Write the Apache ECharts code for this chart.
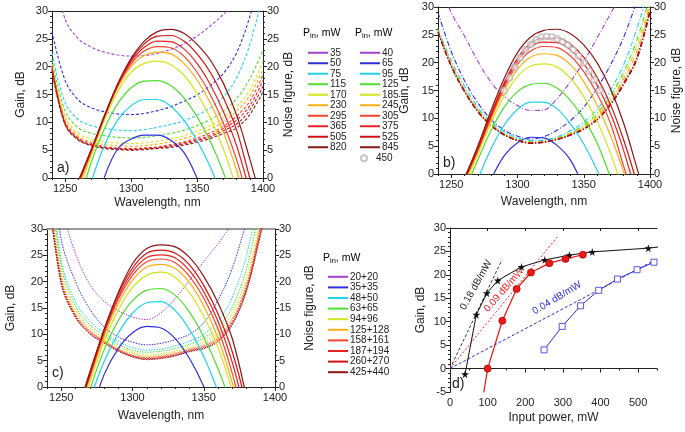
<!DOCTYPE html>
<html><head><meta charset="utf-8">
<script src="https://cdn.jsdelivr.net/npm/echarts@6/dist/echarts.min.js"></script>
<style>html,body{margin:0;padding:0;background:#fff}#c{width:685px;height:432px}</style>
</head><body><div id="c"></div>
<script>
// ---------- data ----------
const WL = [1240,1250,1260,1270,1280,1290,1300,1310,1320,1330,1340,1350,1360,1370,1380,1390,1400];
const _ = null;
// panel a (legend column 1), gain
const aNames = ['35','50','75','115','170','230','295','365','505','820'];
const aGain = {
  '50':  [_,_,_,-8,0.3,5.3,7.0,7.7,7.7,6.8,4.6,0,-6,_,_,_,_],
  '75':  [_,_,_,-0.5,6.0,10.5,13.0,14.1,14.1,12.9,10.4,6.7,2.0,-4,_,_,_],
  '115': [_,_,-5,3.0,9.0,13.4,16.2,17.4,17.5,16.6,14.4,11.0,6.6,1.0,-6,_,_],
  '170': [_,_,-2.5,4.2,10.5,15.6,19.0,20.6,21.0,20.4,18.5,15.2,10.8,5.2,-2,_,_],
  '230': [_,_,-1.5,4.6,11.0,16.3,20.0,22.0,22.6,22.3,20.6,17.6,13.5,8.2,1.3,-7,_],
  '295': [_,_,-1,4.9,11.1,16.6,20.5,22.8,23.6,23.4,21.9,19.0,15.0,9.8,3.3,-5,_],
  '365': [_,_,-0.8,5.0,11.2,16.8,20.9,23.5,24.6,24.5,23.2,20.6,16.8,11.9,5.8,-2.5,_],
  '505': [_,_,-0.6,5.1,11.3,16.9,21.2,24.1,25.5,25.6,24.6,22.3,19.0,14.4,8.6,0.0,-8],
  '820': [_,_,-0.5,5.3,11.3,17.0,21.5,24.6,26.3,26.7,26.0,24.0,21.2,17.0,11.3,3.4,-5]
};
const aNF = {
  '35':  [38,28.5,25.0,23.5,22.6,22.1,21.9,22.0,22.4,23.1,24.1,25.5,27.3,29.4,32,_,_],
  '50':  [26.3,17.5,14.0,12.6,11.9,11.5,11.4,11.6,12.1,12.8,13.8,14.9,16.6,18.8,22.5,29,38],
  '75':  [22.4,13.5,10.5,9.4,8.9,8.6,8.5,8.7,9.1,9.6,10.3,11.3,12.6,14.6,18.0,24.0,33],
  '115': [21.2,12.0,9.0,8.0,7.6,7.3,7.2,7.3,7.6,8.0,8.6,9.4,10.5,12.0,14.3,17.8,23],
  '170': [20.5,11.0,8.0,7.0,6.5,6.3,6.2,6.3,6.6,7.0,7.6,8.4,9.4,10.8,12.8,15.8,21],
  '230': [20.2,10.5,7.5,6.5,6.0,5.8,5.7,5.8,6.1,6.5,7.1,7.8,8.8,10.1,12.0,14.8,19.5],
  '295': [20,10.0,7.2,6.2,5.6,5.4,5.3,5.4,5.6,6.0,6.5,7.2,8.1,9.3,11.1,13.8,18.5],
  '365': [19.8,9.8,7.0,6.0,5.5,5.3,5.2,5.3,5.5,5.8,6.3,6.9,7.7,8.9,10.4,13.0,17.5],
  '505': [19.5,9.6,6.9,5.9,5.4,5.2,5.1,5.2,5.4,5.7,6.1,6.7,7.4,8.5,9.7,12.2,16.5],
  '820': [19.2,9.5,6.8,5.8,5.3,5.1,5.0,5.1,5.3,5.5,5.9,6.4,7.1,8.0,9.0,11.4,15.5]
};
// panel b (legend column 2)
const bNames = ['40','65','95','125','185','245','305','375','525','845'];
const bGain = {
  '65':  [_,_,_,_,-1,3.3,5.6,6.6,6.5,5.1,2.5,-2.5,_,_,_,_,_],
  '95':  [_,_,_,-1,4.5,8.8,11.6,12.9,12.9,11.7,9.0,5.4,0.7,-5,_,_,_],
  '125': [_,_,-3,2.5,7.8,12.0,14.8,16.1,16.3,15.4,13.2,9.9,5.6,-0.5,-7,_,_],
  '185': [_,_,-2,3.5,9.2,14.0,17.5,19.4,19.8,19.2,17.2,13.9,9.5,3.8,-3,_,_],
  '245': [_,_,-1.5,4.0,9.8,15.0,18.8,21.0,21.6,21.3,19.6,16.6,12.4,7.0,0.5,-7,_],
  '305': [_,_,-1.2,4.2,10.2,15.6,19.7,22.1,22.9,22.7,21.2,18.4,14.4,9.2,1.5,-6,_],
  '375': [_,_,-1,4.4,10.5,16.0,20.3,22.9,23.7,23.6,22.3,19.8,16.0,11.0,4.3,-4,_],
  '525': [_,_,-0.8,4.6,10.8,16.4,20.8,23.5,24.4,24.4,23.3,21.0,17.4,12.6,6.2,-1.5,_],
  '845': [_,_,-0.7,5.0,11.4,17.2,21.8,24.6,25.8,26.0,25.2,23.2,20.0,15.4,9.2,1.2,-7]
};
const bNF = {
  '40':  [35,29.0,24.8,20.3,16.5,13.9,12.3,11.4,11.5,13.6,16.6,20.2,24.4,28.7,33,_,_],
  '65':  [29,22,16.8,12.8,9.8,7.9,6.8,6.3,6.7,7.9,9.6,12.0,15.4,19.5,24.5,31,38],
  '95':  [26,20.3,15.8,12.0,9.4,7.6,6.5,6.0,6.1,6.7,7.8,9.3,11.6,15.0,19.6,26.0,34],
  '125': [25.8,19.8,15.2,11.6,9.0,7.3,6.3,5.8,5.9,6.5,7.4,8.8,10.9,14.0,18.3,24,32],
  '185': [25.7,19.7,15.1,11.5,8.9,7.2,6.2,5.7,5.9,6.4,7.3,8.6,10.6,13.5,17.5,23,31],
  '245': [25.6,19.6,15.0,11.4,8.9,7.2,6.1,5.7,5.8,6.3,7.2,8.4,10.3,13.1,17.0,22,30.5],
  '305': [25.6,19.5,14.9,11.3,8.8,7.1,6.1,5.6,5.8,6.3,7.1,8.2,9.9,12.6,16.4,21,29.8],
  '375': [25.5,19.4,14.9,11.3,8.8,7.1,6.0,5.6,5.7,6.2,7.0,8.1,9.8,12.5,16.2,20.8,29.5],
  '525': [25.5,19.4,14.8,11.2,8.7,7.0,6.0,5.5,5.7,6.2,7.0,8.1,9.8,12.4,16.1,20.7,29.3],
  '845': [25.4,19.3,14.8,11.2,8.7,7.0,6.0,5.5,5.7,6.2,7.0,8.0,9.7,12.3,16.0,20.5,29.0]
};
const circleWL   = [1290,1294,1298,1302,1306,1310,1314,1318,1322,1326,1330,1334,1338,1342,1346,1350,1354,1358,1362];
const circleGain = [15.0,17.3,19.2,20.9,22.3,23.3,24.1,24.6,24.7,24.6,24.3,23.8,23.2,22.3,21.2,20.0,18.5,16.9,15.0];
// panel c
const cNames = ['20+20','35+35','48+50','63+65','94+96','125+128','158+161','187+194','260+270','425+440'];
const cGain = {
  '35+35':   [_,_,_,-6,2.3,7.3,10.3,11.5,11.2,9.2,5.4,0.1,-7,_,_,_,_],
  '48+50':   [_,_,_,-2.5,4.8,10.2,14.0,16.0,16.2,14.5,10.9,5.8,-0.8,-8,_,_,_],
  '63+65':   [_,_,_,-0.6,7.0,12.6,16.4,18.4,18.7,17.4,14.2,9.5,3.5,-4,_,_,_],
  '94+96':   [_,_,-7,0.8,8.6,14.6,18.9,21.2,21.8,20.8,17.9,13.4,7.5,-0.6,-9,_,_],
  '125+128': [_,_,-6.5,1.6,9.5,15.8,20.3,22.8,23.3,22.5,19.8,15.4,9.3,0.8,-9,_,_],
  '158+161': [_,_,-6,2.0,10.1,16.6,21.2,23.8,24.3,23.6,21.0,16.9,11.0,2.6,-8,_,_],
  '187+194': [_,_,-6,2.2,10.5,17.1,21.9,24.6,25.1,24.5,22.1,18.1,12.5,4.7,-6,_,_],
  '260+270': [_,_,-6,2.5,10.9,17.7,22.6,25.4,26.0,25.4,23.2,19.3,13.9,6.7,-3.5,_,_],
  '425+440': [_,_,-6,2.8,10.8,17.9,23.4,26.3,27.0,26.6,24.6,21.0,16.0,9.2,-2,_,_]
};
const cNF = {
  '20+20':   [_,34,25.3,19.5,16.3,14.5,13.3,12.8,14.1,16.8,20.3,23.8,27.2,31,_,_,_],
  '35+35':   [50,28,20,14.8,11.4,9.5,8.5,8.0,8.3,9.0,10.0,12.2,16.5,22.5,31.5,_,_],
  '48+50':   [48,24,16.2,12.5,10.3,8.6,7.5,7.0,7.2,7.8,8.7,10.0,12.5,17.0,25.0,38,_],
  '63+65':   [46,23,15.3,11.8,9.8,8.1,7.0,6.6,6.8,7.3,8.1,9.3,11.3,15.2,22.5,35,_],
  '94+96':   [44,22,14.6,11.2,9.3,7.7,6.6,6.1,6.3,6.8,7.6,8.6,10.4,14.0,20.8,32,_],
  '125+128': [42,21,14.0,10.8,8.9,7.3,6.3,5.8,6.0,6.5,7.3,8.1,9.7,13.1,19.7,31,_],
  '158+161': [41,20.5,13.7,10.6,8.7,7.1,6.0,5.6,5.8,6.3,7.1,7.8,9.3,12.6,19.2,30.5,43],
  '187+194': [40,20,13.5,10.4,8.6,7.0,5.9,5.4,5.6,6.1,6.9,7.6,9.0,12.3,18.8,30,42],
  '260+270': [39.5,19.8,13.3,10.2,8.4,6.9,5.8,5.3,5.5,6.0,6.8,7.4,8.8,12.0,18.5,29.5,41],
  '425+440': [39,19.5,13.2,10.1,8.3,6.8,5.7,5.2,5.4,5.9,6.7,7.3,8.6,11.8,18.2,29,41]
};
// panel d
const starX = [40,70,98,127,190,252,317,378,527,560];
const starY = [-1.2,11.5,16.1,18.8,21.7,23.2,24.2,24.9,25.7,26.0];
const redX  = [86,100,139,177,215,264,307,353];
const redY  = [-7,0,10.2,17.0,20.5,22.5,23.4,24.3];
const blueX = [250,298,347,395,445,497,542];
const blueY = [4.0,9.0,13.4,16.7,19.1,21.1,22.7];
const fit18X = [0,138], fit18Y = [0,23.2];
const fit09X = [0,286], fit09Y = [0,28.2];
const fit04X = [0,560], fit04Y = [0,23.8];
const xTicksWL = [1250,1300,1350,1400];
const xTicksP = [0,100,200,300,400,500];

// ---------- style ----------
const COLORS = ['#a43fd0','#2e2ee0','#1fd2f0','#4ddf2c','#d2e61e','#ffae12','#f5442e','#e82222','#d41010','#8c1616'];
const FN = "'Liberation Sans Narrow','Arial Narrow','Liberation Sans',Arial,sans-serif";
const FR = "'Liberation Sans',Arial,sans-serif";
const AX = '#222';
const plain = v => String(v);
const grids = [
  {left:52, top:11, width:211, height:167},
  {left:438, top:7, width:212, height:167},
  {left:47, top:229, width:228, height:158},
  {left:450, top:228, width:207, height:164}
];
const xAxis = [], yAxis = [];
function wlX(g, nameGap, topColor, topW){
  xAxis.push({gridIndex:g, type:'value', min:1240, max:1400, position:'bottom',
    axisLine:{lineStyle:{color:AX,width:1}},
    axisTick:{customValues:xTicksWL, length:4, lineStyle:{color:AX}},
    axisLabel:{customValues:xTicksWL, formatter:plain, margin:5, fontSize:11, fontFamily:FN, color:AX},
    splitLine:{show:false}, name:'Wavelength, nm', nameLocation:'middle', nameGap:nameGap,
    nameTextStyle:{fontSize:12, fontFamily:FR, color:AX}});
  xAxis.push({gridIndex:g, type:'value', min:1240, max:1400, interval:10, position:'bottom',
    axisLine:{show:false}, axisTick:{length:2, lineStyle:{color:AX}}, axisLabel:{show:false}, splitLine:{show:false}});
  xAxis.push({gridIndex:g, type:'value', min:1240, max:1400, position:'top',
    axisLine:{lineStyle:{color:topColor,width:topW}}, axisTick:{show:false}, axisLabel:{show:false}, splitLine:{show:false}});
}
function gY(g, pos, name, gap){
  yAxis.push({gridIndex:g, type:'value', min:0, max:30, interval:5, position:pos,
    axisLine:{show:true, lineStyle:{color:AX}}, axisTick:{show:true, length:4, lineStyle:{color:AX}},
    minorTick:{show:true, splitNumber:5, length:2, lineStyle:{color:AX}},
    axisLabel:{margin:4, fontSize:11, fontFamily:FN, color:AX, formatter:plain, showMinLabel:true, showMaxLabel:true},
    splitLine:{show:false},
    name:name, nameLocation:'middle', nameGap:gap, nameRotate:90,
    nameTextStyle:{fontSize:12, fontFamily:FR, color:AX}});
}
wlX(0, 19, AX, 1); gY(0,'left','Gain, dB',25); gY(0,'right','Noise figure, dB',18);
wlX(1, 22, AX, 1); gY(1,'left','Gain, dB',27); gY(1,'right','Noise figure, dB',21);
wlX(2, 23, '#999', 2); gY(2,'left','Gain, dB',30); gY(2,'right','Noise figure, dB',29);
// panel d axes
xAxis.push({gridIndex:3, type:'value', min:0, max:550, position:'bottom',
  axisLine:{lineStyle:{color:AX}}, axisTick:{customValues:xTicksP, length:4, lineStyle:{color:AX}},
  axisLabel:{customValues:xTicksP, formatter:plain, margin:5, fontSize:11, fontFamily:FN, color:AX, showMinLabel:true},
  splitLine:{show:false},
  name:'Input power, mW', nameLocation:'middle', nameGap:20, nameTextStyle:{fontSize:12, fontFamily:FR, color:AX}});
xAxis.push({gridIndex:3, type:'value', min:0, max:550, interval:50, position:'bottom',
  axisLine:{show:false}, axisTick:{length:2, lineStyle:{color:AX}}, axisLabel:{show:false}, splitLine:{show:false}});
xAxis.push({gridIndex:3, type:'value', min:0, max:550, position:'top',
  axisLine:{lineStyle:{color:AX}}, axisTick:{customValues:xTicksP, inside:true, length:3, lineStyle:{color:AX}},
  axisLabel:{show:false}, splitLine:{show:false}});
yAxis.push({gridIndex:3, type:'value', min:-5, max:30, interval:5, position:'left',
  axisLine:{show:true, lineStyle:{color:AX}}, axisTick:{length:4, lineStyle:{color:AX}},
  minorTick:{show:true, splitNumber:5, length:2, lineStyle:{color:AX}},
  axisLabel:{margin:4, fontSize:11, fontFamily:FN, color:AX, formatter:plain, showMinLabel:true, showMaxLabel:true},
  splitLine:{show:false},
  name:'Gain, dB', nameLocation:'middle', nameGap:23, nameRotate:90, nameTextStyle:{fontSize:12, fontFamily:FR, color:AX}});
yAxis.push({gridIndex:3, type:'value', min:-5, max:30, interval:5, position:'right',
  axisLine:{show:true, lineStyle:{color:AX}}, axisTick:{inside:true, length:3, lineStyle:{color:AX}},
  axisLabel:{show:false}, splitLine:{show:false}});

const series = [];
function ln(name, arr, xs, xi, yi, color, type, width){
  series.push({type:'line', name:name, xAxisIndex:xi, yAxisIndex:yi,
    data: xs.map((x,i)=>[x, arr[i]]), smooth:0.35, symbol:'none', showSymbol:false,
    lineStyle:{color:color, width:width, type:type}, itemStyle:{color:color}, clip:true, silent:true});
}
function panel(names, gain, nf, xi, yi, dash, nfW){
  names.forEach((n,k)=>{ if(nf[n]) ln(n, nf[n], WL, xi, yi+1, COLORS[k], dash, nfW); });
  names.forEach((n,k)=>{ if(gain[n]) ln(n, gain[n], WL, xi, yi, COLORS[k], 'solid', 1.2); });
}
panel(aNames, aGain, aNF, 0, 0, [3,2], 1.1);
panel(bNames, bGain, bNF, 3, 2, [5,2,1,2], 1.1);
series.push({type:'scatter', name:'450', xAxisIndex:3, yAxisIndex:2,
  data: circleWL.map((x,i)=>[x, circleGain[i]]), symbol:'circle', symbolSize:6,
  itemStyle:{color:'rgba(255,255,255,0.7)', borderColor:'#b5b5b5', borderWidth:1.6}, z:5, silent:true});
panel(cNames, cGain, cNF, 6, 4, [1.5,1.2], 1.0);

// panel d
const STAR = 'path://M50,0 L61,35 L98,35 L68,57 L79,91 L50,70 L21,91 L32,57 L2,35 L39,35 Z';
function fit(xs, ys, color, type){
  series.push({type:'line', xAxisIndex:9, yAxisIndex:6, data: xs.map((x,i)=>[x,ys[i]]), symbol:'none',
    lineStyle:{color:color, width:1, type:type}, silent:true});
}
fit(fit18X, fit18Y, '#333', [3,2]);
fit(fit09X, fit09Y, '#ee2222', [2,2]);
fit(fit04X, fit04Y, '#2a2ae0', [3,2]);
series.push({type:'line', xAxisIndex:9, yAxisIndex:6,
  data: starX.map((x,i)=> i===starX.length-1 ? {value:[x,starY[i]], symbol:'none'} : [x,starY[i]]),
  symbol:STAR, symbolSize:8, showAllSymbol:true, lineStyle:{color:'#111', width:1}, itemStyle:{color:'#111'}, z:4, silent:true});
series.push({type:'line', xAxisIndex:9, yAxisIndex:6,
  data: redX.map((x,i)=> i===0 ? {value:[x,redY[i]], symbol:'none'} : [x,redY[i]]),
  symbol:'circle', symbolSize:7, showAllSymbol:true, lineStyle:{color:'#ee1111', width:1.2},
  itemStyle:{color:'#f01818', borderColor:'#b00000', borderWidth:0.8}, z:4, silent:true});
series.push({type:'line', xAxisIndex:9, yAxisIndex:6, data: blueX.map((x,i)=>[x,blueY[i]]),
  symbol:'rect', symbolSize:6, showAllSymbol:true, lineStyle:{color:'#2a2ad8', width:1},
  itemStyle:{color:'#fff', borderColor:'#5555dd', borderWidth:1}, z:4, silent:true});

const legBase = {orient:'vertical', icon:'rect', itemWidth:20, itemHeight:2, itemGap:0, selectedMode:false,
  textStyle:{fontSize:10, lineHeight:10.5, fontFamily:FN, color:AX, padding:[0,0,0,-3]}};
const legend = [
  Object.assign({}, legBase, {data:aNames, left:303, top:42.5}),
  Object.assign({}, legBase, {data:bNames, left:355, top:42.5}),
  Object.assign({}, legBase, {data:['450'], left:355, top:148, icon:'circle', itemHeight:6}),
  Object.assign({}, legBase, {data:cNames, left:323, top:266.5, textStyle:Object.assign({}, legBase.textStyle, {lineHeight:10.6})})
];
const richT = {p:{fontSize:10.5, fontFamily:FN, color:AX}, s:{fontSize:7.5, fontFamily:FN, color:AX, padding:[6,0,0,0]}};
function ttl(x,y){ return {type:'text', x:x, y:y, style:{text:'{p|P}{s|in}{p|, mW}', rich:richT, verticalAlign:'middle'}}; }
function lab(t,x,y){ return {type:'text', x:x, y:y, style:{text:t, fontSize:14, fontFamily:FR, fill:AX}}; }
function ann(t,x,y,deg,color){ return {type:'text', x:x, y:y, rotation:deg*Math.PI/180,
  style:{text:t, fontSize:10, fontFamily:FN, fill:color, align:'center', verticalAlign:'middle'}}; }
const graphic = [ttl(303,33), ttl(355,33), ttl(323,258),
  lab('a)',57,161), lab('b)',443,156), lab('c)',52,366), lab('d)',452,377),
  ann('0.18 dB/mW',476,285,61,'#222'), ann('0.09 dB/mW',504,290,49,'#ee2222'), ann('0.04 dB/mW',557,298,31,'#2a2ad8')];

const chart = echarts.init(document.getElementById('c'), null, {renderer:'canvas'});
chart.setOption({backgroundColor:'#fff', animation:false, grid:grids, xAxis:xAxis, yAxis:yAxis,
  series:series, legend:legend, graphic:graphic, tooltip:{show:false}});
</script></body></html>
